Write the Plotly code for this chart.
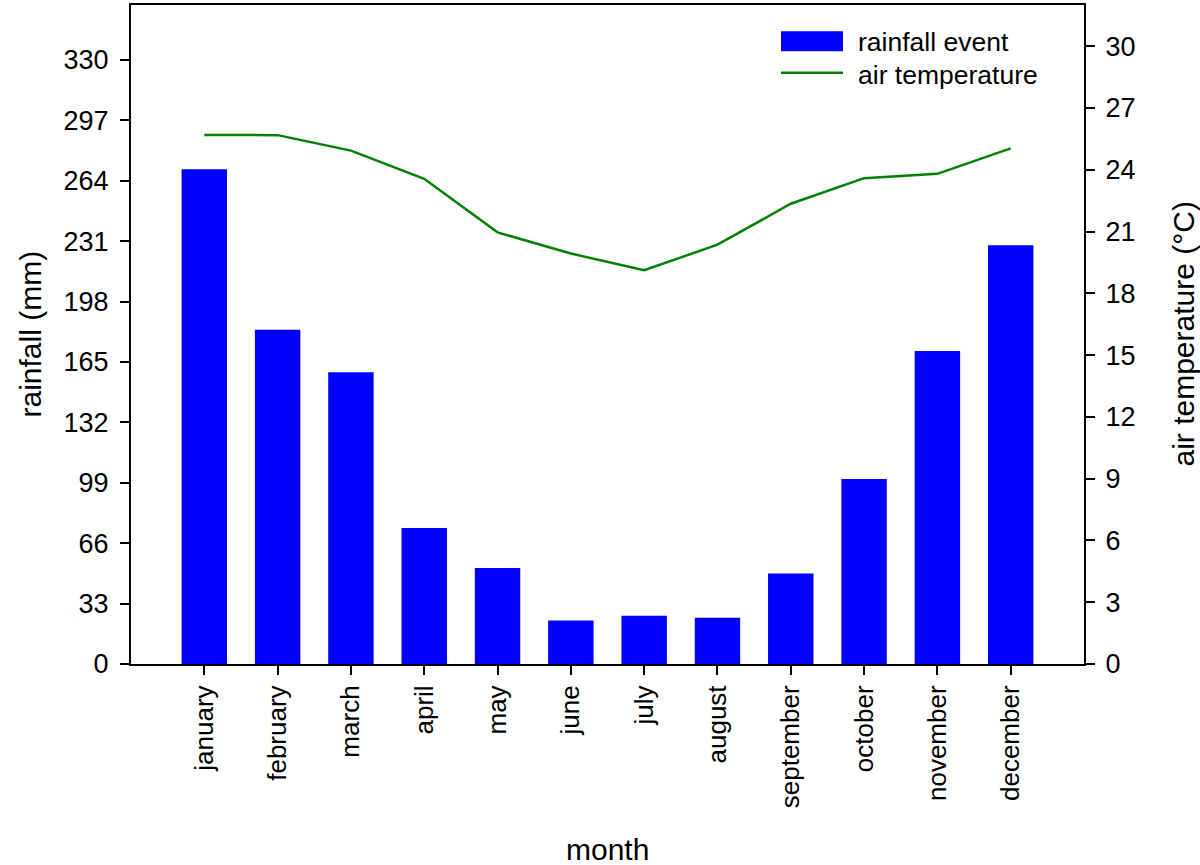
import plotly.graph_objects as go

# Monthly climate data
months = ["january", "february", "march", "april", "may", "june",
          "july", "august", "september", "october", "november", "december"]
rainfall_mm = [270.3, 182.6, 159.4, 74.3, 52.5, 23.8, 26.3, 25.2, 49.4, 101.1, 171.0, 228.8]
air_temp_c = [25.69, 25.68, 24.93, 23.56, 20.96, 19.93, 19.12, 20.36, 22.35, 23.59, 23.80, 25.04]

rain_ticks = [0, 33, 66, 99, 132, 165, 198, 231, 264, 297, 330]
temp_ticks = [0, 3, 6, 9, 12, 15, 18, 21, 24, 27, 30]

FONT = "Arial, Liberation Sans, Helvetica, sans-serif"
BAR_COLOR = "#0000ff"
LINE_COLOR = "#008000"

# Plot-area geometry in pixels (used for the legend and axis titles)
PLOT_L, PLOT_R, PLOT_T, PLOT_B = 131, 1084, 3, 664


def px_to_paper_x(px):
    return (px - PLOT_L) / (PLOT_R - PLOT_L)


def px_to_paper_y(py):
    return (PLOT_B - py) / (PLOT_B - PLOT_T)


fig = go.Figure()

fig.add_trace(go.Bar(
    x=months, y=rainfall_mm, name="rainfall event",
    marker=dict(color=BAR_COLOR, line=dict(width=0)),
    width=0.62, showlegend=False,
))
fig.add_trace(go.Scatter(
    x=months, y=air_temp_c, name="air temperature", yaxis="y2",
    mode="lines", line=dict(color=LINE_COLOR, width=2.5),
    showlegend=False,
))

axis_common = dict(
    showgrid=False, zeroline=False, showline=True, linecolor="black",
    linewidth=2, ticks="outside", ticklen=9, tickwidth=2, tickcolor="black",
)

fig.update_layout(
    width=1200, height=865,
    margin=dict(l=PLOT_L, r=1200 - PLOT_R, t=PLOT_T, b=865 - PLOT_B),
    paper_bgcolor="white", plot_bgcolor="white",
    font=dict(family=FONT, color="black"),
    xaxis=dict(
        **axis_common, mirror=True,
        type="category", categoryorder="array", categoryarray=months,
        range=[-1, 12], tickangle=-90,
        tickfont=dict(family=FONT, size=26, color="black"),
    ),
    yaxis=dict(
        **axis_common, range=[0, 360], tickvals=rain_ticks,
        tickfont=dict(family=FONT, size=27, color="black"),
        ticklabelstandoff=6,
    ),
    yaxis2=dict(
        **axis_common, overlaying="y", side="right", range=[0, 32],
        tickvals=temp_ticks,
        tickfont=dict(family=FONT, size=27, color="black"),
        ticklabelstandoff=5,
    ),
)

# Axis titles
title_font = dict(family=FONT, size=30, color="black")
fig.add_annotation(xref="paper", yref="paper", x=px_to_paper_x(30), y=0.5,
                   xanchor="center", yanchor="middle", textangle=-90,
                   showarrow=False, text="rainfall (mm)", font=title_font)
fig.add_annotation(xref="paper", yref="paper", x=0.5, y=px_to_paper_y(850),
                   xanchor="center", yanchor="middle",
                   showarrow=False, text="month", font=title_font)
fig.add_annotation(xref="paper", yref="paper", x=px_to_paper_x(1183), y=0.5,
                   xanchor="center", yanchor="middle", textangle=-90,
                   showarrow=False, text="air temperature (°C)", font=title_font)

# Legend drawn in the top-right of the plot area
fig.add_shape(type="rect", xref="paper", yref="paper",
              x0=px_to_paper_x(781), x1=px_to_paper_x(843),
              y0=px_to_paper_y(49.3), y1=px_to_paper_y(29.3),
              fillcolor=BAR_COLOR, line=dict(width=0))
fig.add_shape(type="line", xref="paper", yref="paper",
              x0=px_to_paper_x(781), x1=px_to_paper_x(843),
              y0=px_to_paper_y(71), y1=px_to_paper_y(71),
              line=dict(color=LINE_COLOR, width=2.5))
for label, cy in [("rainfall event", 40), ("air temperature", 73)]:
    fig.add_annotation(xref="paper", yref="paper",
                       x=px_to_paper_x(856), y=px_to_paper_y(cy),
                       xanchor="left", yanchor="middle", showarrow=False,
                       text=label, font=dict(family=FONT, size=26.5, color="black"))

fig.write_html("out.html")
